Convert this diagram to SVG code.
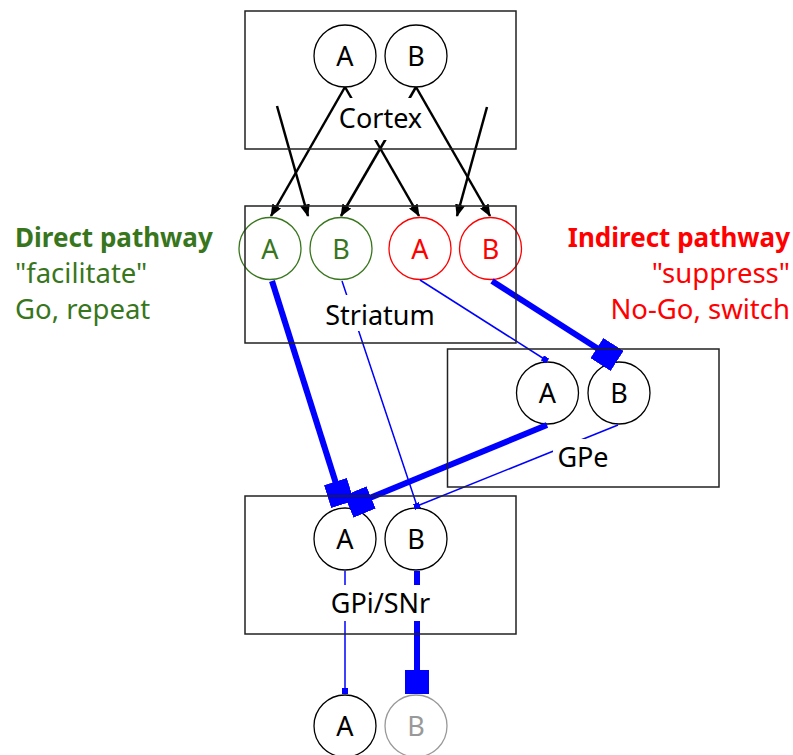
<svg xmlns="http://www.w3.org/2000/svg" width="793" height="755" viewBox="0 0 793 755">
  <style>
    text { font-family: "Noto Sans", "Open Sans", sans-serif; }
    .box { fill: none; stroke: #222; stroke-width: 1.5; }
    .lblbg { fill: #fff; }
    .lbl { font-size: 27px; text-anchor: middle; fill: #000; }
    .cell { fill: #fff; stroke: #000; stroke-width: 1.3; }
    .cell-g { fill: #fff; stroke: #38761d; stroke-width: 1.3; }
    .cell-r { fill: #fff; stroke: #ff0000; stroke-width: 1.3; }
    .cell-off { fill: #fff; stroke: #999; stroke-width: 1.3; }
    .ct { font-size: 27px; text-anchor: middle; fill: #000; }
    .ct-g { fill: #38761d; }
    .ct-r { fill: #ff0000; }
    .ct-off { fill: #999; }
    .exc { fill: none; stroke: #000; stroke-width: 2.5; marker-end: url(#arrow); }
    .inh { fill: none; stroke: #0000ff; marker-end: url(#sq); }
    .thick { stroke-width: 6; }
    .thin { stroke-width: 1.5; }
    .side { font-size: 27.5px; }
    .side-g { fill: #38761d; }
    .side-r { fill: #ff0000; text-anchor: end; }
    .bold { font-weight: bold; font-size: 26px; }
  </style>
  <defs>
    <marker id="arrow" markerUnits="strokeWidth" markerWidth="5" markerHeight="4" refX="4.6" refY="2" orient="auto">
      <path d="M0,0 L5,2 L0,4 Z" fill="#000"/>
    </marker>
    <marker id="sq" markerUnits="strokeWidth" markerWidth="4" markerHeight="4" refX="2" refY="2" orient="auto">
      <path d="M0,0 H4 V4 H0 Z" fill="#0000ff"/>
    </marker>
  </defs>

  <rect width="793" height="755" fill="#fff"/>

  <!-- cells -->
  <g id="ctx-a"><circle class="cell" cx="345" cy="56" r="31"/><text class="ct" x="345" y="66">A</text></g>
  <g id="ctx-b"><circle class="cell" cx="416" cy="56" r="31"/><text class="ct" x="416" y="66">B</text></g>

  <g id="d1-a"><circle class="cell-g" cx="270" cy="248.5" r="31"/><text class="ct ct-g" x="270" y="258.5">A</text></g>
  <g id="d1-b"><circle class="cell-g" cx="341" cy="248.5" r="31"/><text class="ct ct-g" x="341" y="258.5">B</text></g>
  <g id="d2-a"><circle class="cell-r" cx="420" cy="248.5" r="31"/><text class="ct ct-r" x="420" y="258.5">A</text></g>
  <g id="d2-b"><circle class="cell-r" cx="490.5" cy="248.5" r="31"/><text class="ct ct-r" x="490.5" y="258.5">B</text></g>

  <g id="gpe-a"><circle class="cell" cx="547.5" cy="393" r="31"/><text class="ct" x="547.5" y="403">A</text></g>
  <g id="gpe-b"><circle class="cell" cx="619" cy="393" r="31"/><text class="ct" x="619" y="403">B</text></g>

  <g id="gpi-a"><circle class="cell" cx="345" cy="539" r="31"/><text class="ct" x="345" y="549">A</text></g>
  <g id="gpi-b"><circle class="cell" cx="416" cy="539" r="31"/><text class="ct" x="416" y="549">B</text></g>

  <g id="out-a"><circle class="cell" cx="345" cy="726" r="31"/><text class="ct" x="345" y="736">A</text></g>
  <g id="out-b"><circle class="cell-off" cx="416" cy="726" r="31"/><text class="ct ct-off" x="416" y="736">B</text></g>

  <!-- connectors -->
  <g id="connectors">
    <path class="exc" d="M345,87 L271,216"/>
    <path class="exc" d="M345,87 L419,216"/>
    <path class="exc" d="M416,87 L341,216"/>
    <path class="exc" d="M416,87 L490,216"/>
    <path class="exc" d="M277,106 L308,216"/>
    <path class="exc" d="M487,107 L457,216"/>

    <path class="inh thick" d="M272,281 L339,493"/>
    <path class="inh thick" d="M547,425 L360,502"/>
    <path class="inh thick" d="M492,281 L607,354.5"/>
    <path class="inh thick" d="M417,571 L417,682"/>

    <path class="inh thin" d="M420,280 L545,359.5"/>
    <path class="inh thin" d="M342,281 L417,506"/>
    <path class="inh thin" d="M618,425 L417,506"/>
    <path class="inh thin" d="M345,571 L345,691"/>
  </g>

  <!-- regions -->
  <g id="cortex">
    <rect class="box" x="245" y="11" width="271" height="138"/>
    <rect class="lblbg" x="340" y="98" width="81" height="42"/>
    <text class="lbl" x="380.5" y="128">Cortex</text>
  </g>
  <g id="striatum">
    <rect class="box" x="245" y="206" width="271" height="137"/>
    <rect class="lblbg" x="320" y="295" width="120" height="36"/>
    <text class="lbl" x="380" y="325">Striatum</text>
  </g>
  <g id="gpe">
    <rect class="box" x="447.5" y="349" width="271.5" height="138"/>
    <rect class="lblbg" x="553" y="439" width="60" height="37"/>
    <text class="lbl" x="583" y="467">GPe</text>
  </g>
  <g id="gpi">
    <rect class="box" x="245" y="496" width="271" height="138"/>
    <rect class="lblbg" x="323" y="585" width="115" height="36"/>
    <text class="lbl" x="380.5" y="613">GPi/SNr</text>
  </g>

  <!-- pathway legends -->
  <g id="direct-legend">
    <text class="side side-g bold" x="15" y="247">Direct pathway</text>
    <text class="side side-g" x="15" y="283">"facilitate"</text>
    <text class="side side-g" x="15" y="319">Go, repeat</text>
  </g>
  <g id="indirect-legend">
    <text class="side side-r bold" x="790" y="247">Indirect pathway</text>
    <text class="side side-r" x="790" y="283">"suppress"</text>
    <text class="side side-r" x="790" y="319">No-Go, switch</text>
  </g>
</svg>
